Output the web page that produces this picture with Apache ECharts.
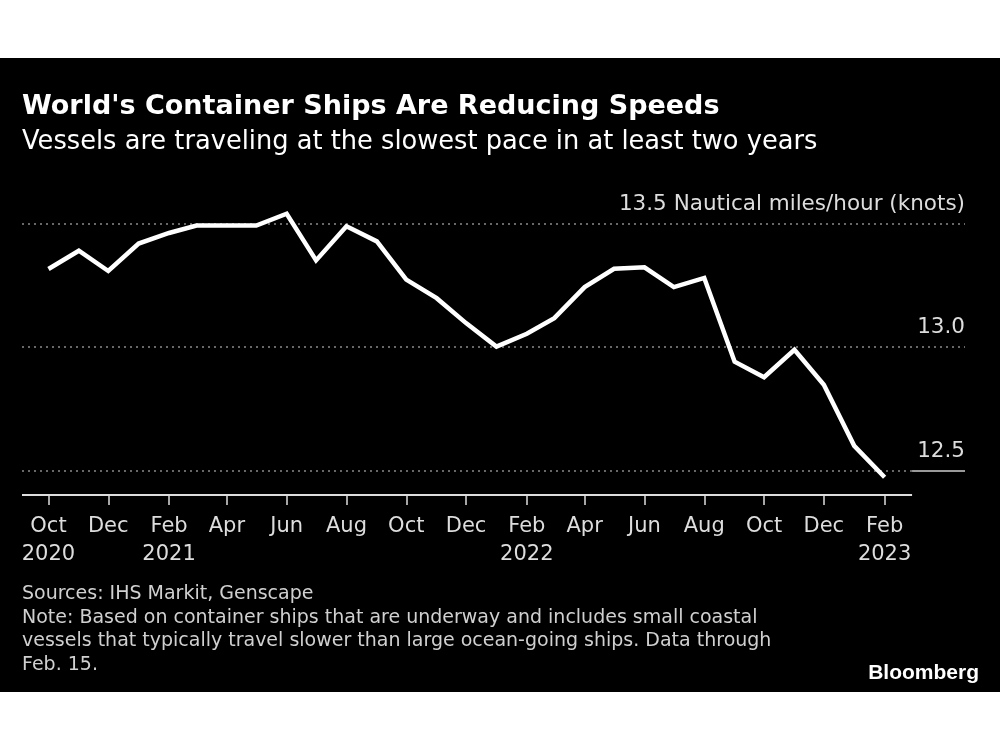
<!DOCTYPE html>
<html>
<head>
<meta charset="utf-8">
<script src="https://cdn.jsdelivr.net/npm/echarts@6/dist/echarts.min.js"></script>
<style>
html,body{margin:0;padding:0;background:#fff;}
#bg{position:absolute;left:0;top:58px;width:1000px;height:634px;background:#000;}
#chart{position:absolute;left:0;top:0;width:1000px;height:750px;}
</style>
</head>
<body>
<div id="bg"></div>
<div id="chart"></div>
<script>
// Monthly average container ship speed (knots)
const months = ['2020-10-01','2020-11-01','2020-12-01','2021-01-01','2021-02-01','2021-03-01','2021-04-01','2021-05-01','2021-06-01','2021-07-01','2021-08-01','2021-09-01','2021-10-01','2021-11-01','2021-12-01','2022-01-01','2022-02-01','2022-03-01','2022-04-01','2022-05-01','2022-06-01','2022-07-01','2022-08-01','2022-09-01','2022-10-01','2022-11-01','2022-12-01','2023-01-01','2023-02-01'];
const speeds = [13.315,13.389,13.307,13.418,13.461,13.491,13.491,13.491,13.539,13.350,13.488,13.427,13.272,13.197,13.096,13.001,13.053,13.116,13.242,13.316,13.322,13.242,13.279,12.940,12.877,12.988,12.846,12.599,12.472];
const tickDates = ['2020-10-01','2020-12-01','2021-02-01','2021-04-01','2021-06-01','2021-08-01','2021-10-01','2021-12-01','2022-02-01','2022-04-01','2022-06-01','2022-08-01','2022-10-01','2022-12-01','2023-02-01'];
const tickLabels = ['Oct\n2020','Dec','Feb\n2021','Apr','Jun','Aug','Oct','Dec','Feb\n2022','Apr','Jun','Aug','Oct','Dec','Feb\n2023'];
const gridValues = [13.5, 13.0];
const gridLabels = ['13.5 Nautical miles/hour (knots)', '13.0'];
const baseValue = 12.5;
const baseLabel = '12.5';

const FONT = 'DejaVu Sans';
function ts(s){const p=s.split('-').map(Number);return Date.UTC(p[0],p[1]-1,p[2]);}
const xMin = ts('2020-09-04'), xAxisEnd = ts('2023-03-01'), xMax = ts('2023-04-24');
const yMin = 12.4;
const tickTs = tickDates.map(ts);

const chart = echarts.init(document.getElementById('chart'), null, {renderer:'canvas'});
const dotted = {type:[2,4],color:'#8a8a8a',width:1.5};
const gridMarks = gridValues.map((v,i)=>[
  {coord:[xMin, v], lineStyle:dotted, label:{show:true, formatter: gridLabels[i]}},
  {coord:[xMax, v]}
]);
gridMarks.push([{coord:[xMin, baseValue], lineStyle:dotted, label:{show:false}},{coord:[xAxisEnd, baseValue]}]);
gridMarks.push([{coord:[xAxisEnd, baseValue], lineStyle:{type:'solid',color:'#cccccc',width:1.5}, label:{show:true, formatter: baseLabel}},{coord:[xMax, baseValue]}]);
gridMarks.push([{coord:[xMin, yMin], lineStyle:{type:'solid',color:'#dddddd',width:2}, label:{show:false}},{coord:[xAxisEnd, yMin]}]);

chart.setOption({
  backgroundColor:'transparent',
  animation:false,
  textStyle:{fontFamily:FONT},
  title:[
    {text:"World's Container Ships Are Reducing Speeds", left:17, top:88, textStyle:{color:'#fff',fontSize:27,fontWeight:'bold',fontFamily:FONT}},
    {text:'Vessels are traveling at the slowest pace in at least two years', left:17, top:124, textStyle:{color:'#fff',fontSize:25.7,fontWeight:'normal',fontFamily:FONT}},
    {text:'Sources: IHS Markit, Genscape\nNote: Based on container ships that are underway and includes small coastal\nvessels that typically travel slower than large ocean-going ships. Data through\nFeb. 15.', left:17, top:577, textStyle:{color:'#d0d0d0',fontSize:19,lineHeight:23.8,fontWeight:'normal',fontFamily:FONT}},
    {text:'Bloomberg', right:16, top:658, textStyle:{color:'#fff',fontSize:21,fontWeight:'bold',fontFamily:'Liberation Sans'}}
  ],
  grid:{left:22, right:35, top:211, bottom:255},
  xAxis:{
    type:'value', min:xMin, max:xMax,
    axisLine:{show:false},
    splitLine:{show:false},
    axisTick:{show:true, customValues:tickTs, length:10, lineStyle:{color:'#dddddd',width:1.5}},
    axisLabel:{show:true, customValues:tickTs, color:'#dddddd', fontSize:21, lineHeight:28, margin:18, fontFamily:FONT,
      formatter:function(v){let best=0,bd=Infinity;tickTs.forEach((t,i)=>{const d=Math.abs(t-v);if(d<bd){bd=d;best=i;}});return tickLabels[best];}}
  },
  yAxis:{type:'value', min:yMin, max:13.55, show:false, splitLine:{show:false}},
  series:[
    {type:'line', data:[], z:1, silent:true,
      markLine:{symbol:'none', silent:true, z:1,
        label:{position:'insideEndTop', distance:[0,8], color:'#dddddd', fontSize:21.5, fontFamily:FONT},
        data:gridMarks}},
    {type:'line', z:5, data:months.map((m,i)=>[ts(m), speeds[i]]), showSymbol:false, symbol:'none',
      lineStyle:{color:'#ffffff', width:4.5, join:'miter'}}
  ]
});
</script>
</body>
</html>
